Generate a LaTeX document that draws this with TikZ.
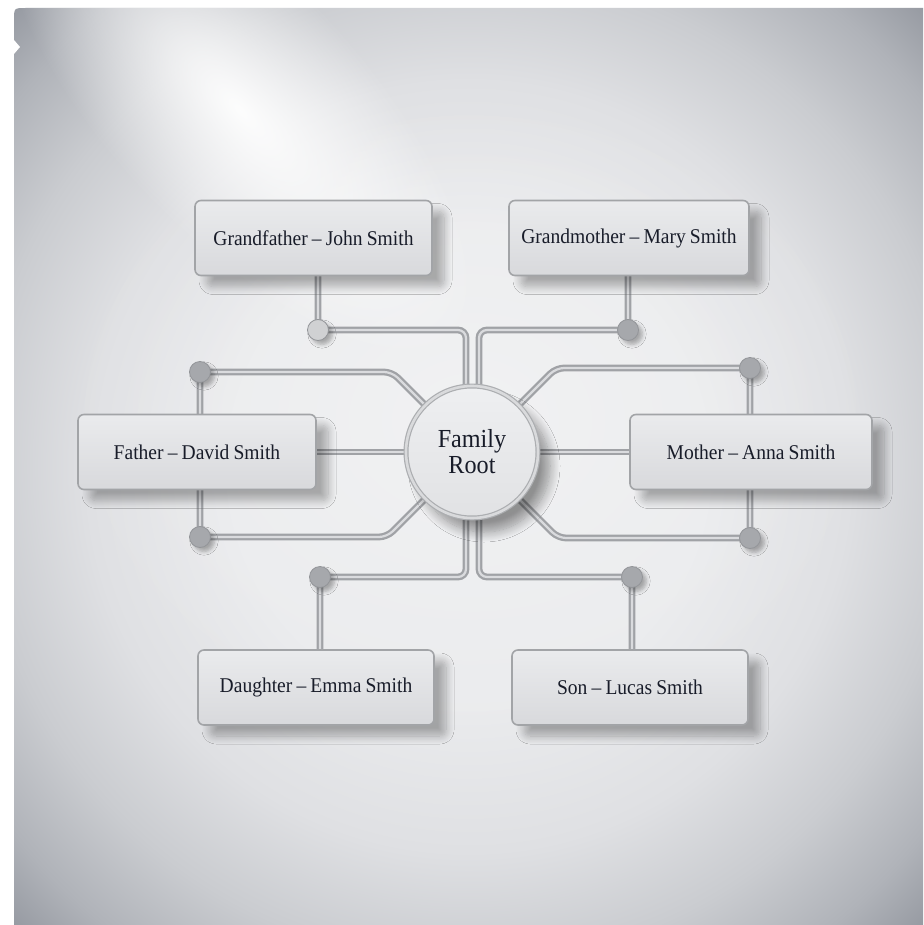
\documentclass[tikz,border=0pt]{standalone}
\usepackage{fontspec}
\setmainfont{Liberation Serif}[FakeStretch=0.93, WordSpace=0.85]
\usetikzlibrary{calc,fadings,shadows.blur}
\definecolor{bgA}{HTML}{EAEBED}
\definecolor{bgM}{HTML}{DFE0E3}
\definecolor{bgB}{HTML}{CACCD0}
\definecolor{bgC}{HTML}{B0B3B9}
\definecolor{bgD}{HTML}{92969E}
\definecolor{trk}{HTML}{A0A2A6}
\definecolor{trkin}{HTML}{DADBDE}
\definecolor{knobc}{HTML}{A6A8AC}
\definecolor{knobl}{HTML}{D0D1D3}
\definecolor{knobd}{HTML}{939599}
\definecolor{boxd}{HTML}{A2A4A7}
\definecolor{boxt}{HTML}{EAEBED}
\definecolor{boxb}{HTML}{D8D9DC}
\definecolor{txt}{HTML}{181C29}
\definecolor{rim}{HTML}{ACAEB1}
\definecolor{rimin}{HTML}{D9DADC}
\definecolor{facet}{HTML}{EEEFF1}
\definecolor{faceb}{HTML}{E1E2E4}
\pgfdeclareradialshading{vign}{\pgfpoint{0bp}{0bp}}{color(0bp)=(bgA); color(13bp)=(bgA); color(21bp)=(bgM); color(27bp)=(bgB); color(32bp)=(bgC); color(36bp)=(bgD); color(50bp)=(bgD)}
\tikzfading[name=glowfade, inner color=transparent!0, outer color=transparent!100]
\pgfdeclarelayer{bg}
\pgfsetlayers{bg,main}
\begin{document}
\begin{tikzpicture}[x=0.5pt,y=-0.5pt,
  track/.style={draw=trk, line width=1.15pt, double=trkin, double distance=1.1pt, rounded corners=4pt},
  knob/.style={circle, fill=knobc, draw=knobd, line width=0.4pt, minimum size=10.5pt, inner sep=0pt,
    blur shadow={shadow xshift=2pt, shadow yshift=-2pt, shadow blur steps=5, shadow opacity=30}},
  perbox/.style={rounded corners=3pt, draw=boxd, line width=0.8pt, top color=boxt, bottom color=boxb,
    minimum height=37.5pt, inner sep=0pt, text=txt, font=\fontsize{10.5}{12}\selectfont,
    blur shadow={shadow xshift=6pt, shadow yshift=-5.5pt, shadow blur steps=10, shadow opacity=30, shadow blur extra rounding=3pt, shadow blur radius=4pt}},
  rootc/.style={circle, minimum size=66pt, inner sep=0pt, draw=rim, line width=0.6pt, double=rimin, double distance=1.3pt,
    top color=facet, bottom color=faceb, align=center, text=txt, font=\fontsize{13}{13}\selectfont,
    blur shadow={shadow xshift=6pt, shadow yshift=-7pt, shadow blur steps=12, shadow opacity=40, shadow blur radius=5pt}}
]
\useasboundingbox (0,0) rectangle (923,925);
% nodes
\node[rootc] (root) at (472,452) {Family\\Root};
\node[perbox, minimum width=118.5pt] (gf) at (313.5,238) {Grandfather \textendash{} John Smith};
\node[perbox, minimum width=120pt] (gm) at (629,238) {Grandmother \textendash{} Mary Smith};
\node[perbox, minimum width=119pt] (fa) at (197,452) {Father \textendash{} David Smith};
\node[perbox, minimum width=121pt] (mo) at (751,452) {Mother \textendash{} Anna Smith};
\node[perbox, minimum width=118pt] (da) at (316,687.5) {Daughter \textendash{} Emma Smith};
\node[perbox, minimum width=118pt] (so) at (630,687.5) {Son \textendash{} Lucas Smith};
\node[knob, fill=knobl] (kgf) at (318,330) {};
\node[knob] (kgm) at (628,330) {};
\node[knob] (kft) at (200,372) {};
\node[knob] (kfb) at (200,537) {};
\node[knob] (kmt) at (750,368) {};
\node[knob] (kmb) at (750,538) {};
\node[knob] (kda) at (320,577) {};
\node[knob] (kso) at (632,577) {};
\coordinate (cft) at ($(root.center)+(-80,-80)$);
\coordinate (cfb) at ($(root.center)+(-85,85)$);
\coordinate (cmt) at ($(root.center)+(84,-84)$);
\coordinate (cmb) at ($(root.center)+(86,86)$);
\coordinate (tl) at ($(root.center)+(-6,0)$);
\coordinate (tr) at ($(root.center)+(7,0)$);
\begin{pgfonlayer}{bg}
\fill[white] (0,0) rectangle (923,925);
\path[shading=vign] (14,925) -- (14,20) .. controls (14,8) .. (26,8) -- (923,8) -- (923,925) -- cycle;
\fill[white] (14,40) -- (20,47) -- (14,54) -- cycle;
\begin{scope}
\clip (14,925) -- (14,20) .. controls (14,8) .. (26,8) -- (923,8) -- (923,925) -- cycle;
\begin{scope}[transform canvas={shift={(240,110)}, rotate=-47, yscale=0.4}]
\fill[white, path fading=glowfade, opacity=0.95] (0,0) circle (320);
\end{scope}
\begin{scope}[transform canvas={shift={(470,420)}, yscale=0.8}]
\fill[white, path fading=glowfade, opacity=0.35] (0,0) circle (420);
\end{scope}
\end{scope}
% tracks
\draw[track] (kgf |- gf.center) -- (kgf.center) -| (tl);
\draw[track] (kgm |- gm.center) -- (kgm.center) -| (tr);
\draw[track] (kda |- da.center) -- (kda.center) -| (tl);
\draw[track] (kso |- so.center) -- (kso.center) -| (tr);
\draw[track] (kft |- fa.center) -- (kft.center) -- (cft) -- (root.center);
\draw[track] (kfb |- fa.center) -- (kfb.center) -- (cfb) -- (root.center);
\draw[track] (kmt |- mo.center) -- (kmt.center) -- (cmt) -- (root.center);
\draw[track] (kmb |- mo.center) -- (kmb.center) -- (cmb) -- (root.center);
\draw[track] (fa.center) -- (root.center);
\draw[track] (root.center) -- (mo.center);
\end{pgfonlayer}
\end{tikzpicture}
\end{document}
